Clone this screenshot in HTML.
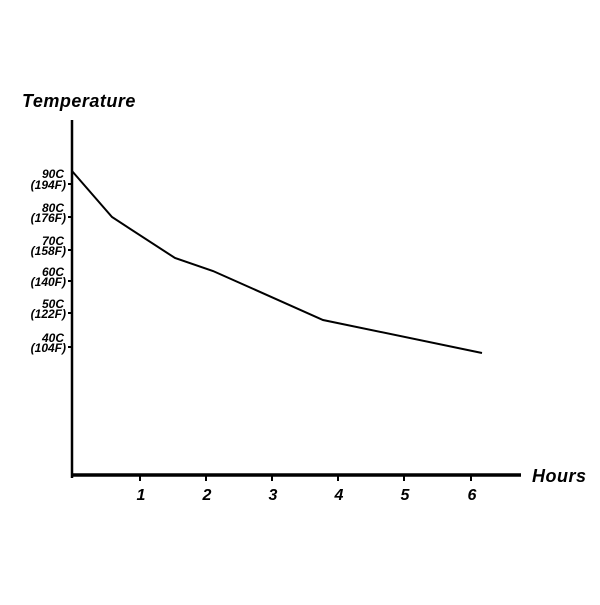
<!DOCTYPE html>
<html><head><style>
html,body{margin:0;padding:0;background:#fff;}
</style></head><body>
<svg width="600" height="600" xmlns="http://www.w3.org/2000/svg" font-family="Liberation Sans, sans-serif" font-weight="bold" font-style="italic">
<rect width="600" height="600" fill="#fff"/>
<text x="22" y="107" font-size="18" letter-spacing="0.5">Temperature</text>
<line x1="72" y1="120" x2="72" y2="478" stroke="#000" stroke-width="2.5"/>
<line x1="71" y1="475" x2="521" y2="475" stroke="#000" stroke-width="3.5"/>
<g stroke="#000" stroke-width="2">
<line x1="68" y1="184" x2="72" y2="184"/><line x1="68" y1="217" x2="72" y2="217"/>
<line x1="68" y1="250" x2="72" y2="250"/><line x1="68" y1="281" x2="72" y2="281"/>
<line x1="68" y1="313" x2="72" y2="313"/><line x1="68" y1="347" x2="72" y2="347"/>
<line x1="140" y1="475" x2="140" y2="481"/><line x1="206" y1="475" x2="206" y2="481"/>
<line x1="272" y1="475" x2="272" y2="481"/><line x1="338" y1="475" x2="338" y2="481"/>
<line x1="404" y1="475" x2="404" y2="481"/><line x1="471" y1="475" x2="471" y2="481"/>
</g>
<g font-size="12" text-anchor="end">
<text x="64" y="178">90C</text><text x="66" y="189">(194F)</text>
<text x="64" y="212">80C</text><text x="66" y="222">(176F)</text>
<text x="64" y="245">70C</text><text x="66" y="255">(158F)</text>
<text x="64" y="276">60C</text><text x="66" y="286">(140F)</text>
<text x="64" y="308">50C</text><text x="66" y="318">(122F)</text>
<text x="64" y="342">40C</text><text x="66" y="352">(104F)</text>
</g>
<g font-size="16" text-anchor="middle">
<text x="141" y="500">1</text><text x="207" y="500">2</text><text x="273" y="500">3</text>
<text x="339" y="500">4</text><text x="405" y="500">5</text><text x="472" y="500">6</text>
</g>
<text x="532" y="482" font-size="18" letter-spacing="0.5">Hours</text>
<polyline points="72,171 112,217 175,258 213,271 323,320 482,353" fill="none" stroke="#000" stroke-width="2"/>
</svg>
</body></html>
